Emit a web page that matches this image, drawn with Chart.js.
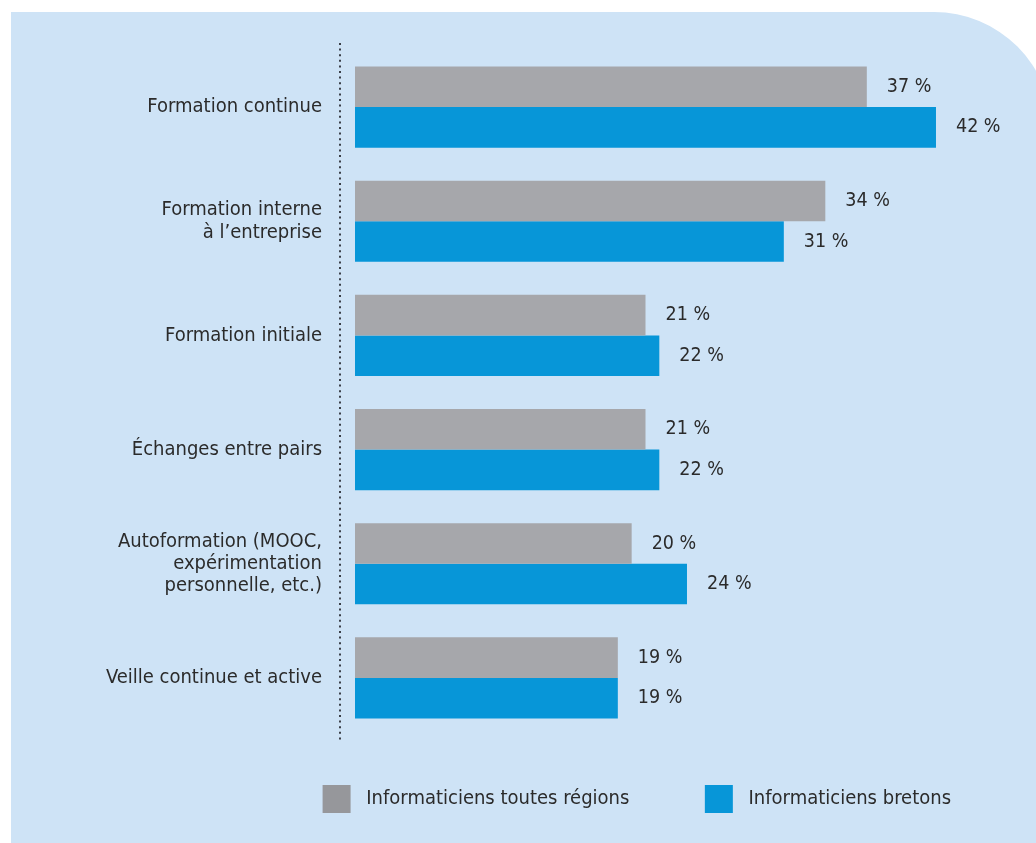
<!DOCTYPE html>
<html lang="fr">
<head>
<meta charset="utf-8">
<title>Modes de formation</title>
<script src="https://cdn.jsdelivr.net/npm/chart.js@4.4.1/dist/chart.umd.min.js"></script>
<style>
    html, body { margin: 0; padding: 0; background: #ffffff; }
    canvas { display: block; }
</style>
</head>
<body>
<canvas id="formationChart" width="1036" height="843"></canvas>
<script>
const categories = [
    ["Formation continue"],
    ["Formation interne", "à l’entreprise"],
    ["Formation initiale"],
    ["Échanges entre pairs"],
    ["Autoformation (MOOC,", "expérimentation", "personnelle, etc.)"],
    ["Veille continue et active"]
];
const toutesRegions = [37, 34, 21, 21, 20, 19];
const bretons = [42, 31, 22, 22, 24, 19];
const seriesNames = ["Informaticiens toutes régions", "Informaticiens bretons"];

const FONT = "'DejaVu Sans Condensed', 'DejaVu Sans', sans-serif";
const TEXT = "#2b2b2b";

// fond bleu clair, coin haut-droit arrondi
const panelPlugin = {
    id: "panel",
    beforeDraw(chart) {
        const ctx = chart.ctx;
        const x0 = 11, y0 = 12, x1 = 1052, y1 = chart.height + 10, r = 118;
        ctx.save();
        ctx.fillStyle = "#cee3f6";
        ctx.beginPath();
        ctx.moveTo(x0, y0);
        ctx.lineTo(x1 - r, y0);
        ctx.arc(x1 - r, y0 + r, r, -Math.PI / 2, 0);
        ctx.lineTo(x1, y1);
        ctx.lineTo(x0, y1);
        ctx.closePath();
        ctx.fill();
        ctx.restore();
    }
};

// ligne pointillée verticale devant les barres
const dottedLinePlugin = {
    id: "dottedLine",
    beforeDatasetsDraw(chart) {
        const { ctx, chartArea } = chart;
        const x = chartArea.left - 15;
        ctx.save();
        ctx.strokeStyle = "#3a3f48";
        ctx.lineWidth = 2;
        ctx.setLineDash([2, 3.6]);
        ctx.beginPath();
        ctx.moveTo(x, chartArea.top - 7);
        ctx.lineTo(x, chartArea.bottom + 5);
        ctx.stroke();
        ctx.restore();
    }
};

// valeurs en % à droite de chaque barre
const valueLabelPlugin = {
    id: "valueLabels",
    afterDatasetsDraw(chart) {
        const ctx = chart.ctx;
        ctx.save();
        ctx.font = "19.5px " + FONT;
        ctx.fillStyle = TEXT;
        ctx.textAlign = "left";
        ctx.textBaseline = "middle";
        chart.data.datasets.forEach((ds, di) => {
            chart.getDatasetMeta(di).data.forEach((bar, i) => {
                ctx.fillText(ds.data[i] + " %", bar.x + 20, bar.y);
            });
        });
        ctx.restore();
    }
};

const chart = new Chart(document.getElementById("formationChart"), {
    type: "bar",
    data: {
        labels: categories,
        datasets: [
            {
                label: seriesNames[0],
                data: toutesRegions,
                backgroundColor: "#a6a7ab"
            },
            {
                label: seriesNames[1],
                data: bretons,
                backgroundColor: "#0796d8"
            }
        ]
    },
    options: {
        indexAxis: "y",
        responsive: false,
        animation: false,
        devicePixelRatio: 1,
        layout: { padding: { top: 50, left: 0, right: 35, bottom: 20 } },
        datasets: {
            bar: { barPercentage: 1, categoryPercentage: 0.7105, borderWidth: 0 }
        },
        scales: {
            x: { display: false, min: 0, max: 46.7 },
            y: {
                grid: { display: false, drawTicks: false },
                border: { display: false },
                afterFit(scale) { scale.width = 355; },
                ticks: {
                    padding: 33,
                    color: TEXT,
                    font: { family: FONT, size: 20, lineHeight: 1.12 }
                }
            }
        },
        plugins: {
            tooltip: { enabled: false },
            legend: {
                position: "bottom",
                align: "end",
                labels: {
                    boxWidth: 28,
                    boxHeight: 28,
                    padding: 50,
                    color: TEXT,
                    font: { family: FONT, size: 20 },
                    generateLabels(c) {
                        const fills = ["#96979b", "#0796d8"];
                        return c.data.datasets.map((ds, i) => ({
                            text: " " + ds.label + (i === 0 ? "\u2002\u2002\u2005\u2006" : ""),
                            fillStyle: fills[i],
                            strokeStyle: fills[i],
                            lineWidth: 0,
                            fontColor: TEXT,
                            datasetIndex: i
                        }));
                    }
                }
            }
        }
    },
    plugins: [panelPlugin, dottedLinePlugin, valueLabelPlugin]
});
</script>
</body>
</html>
